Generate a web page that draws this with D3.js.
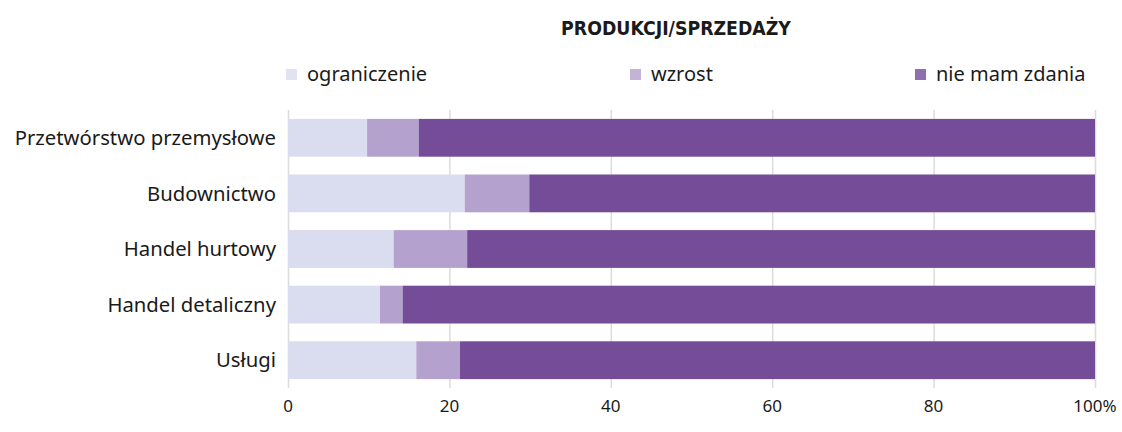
<!DOCTYPE html>
<html>
<head>
<meta charset="utf-8">
<script src="https://cdn.jsdelivr.net/npm/d3@7"></script>
<style>
  body { margin: 0; background: #fff; }
  svg text { font-family: "Noto Sans", "Open Sans", sans-serif; fill: #1a1a1a; }
  .title { font-family: "Liberation Sans Narrow", "DejaVu Sans Condensed", sans-serif; font-weight: bold; }
  .grid line { stroke: #dcdcdc; stroke-width: 1.5; }
</style>
</head>
<body>
<svg id="chart" width="1122" height="432"></svg>
<script>
/* =======================
   DATA
======================= */
const categories = ["Przetwórstwo przemysłowe", "Budownictwo", "Handel hurtowy", "Handel detaliczny", "Usługi"];
const seriesNames = ["ograniczenie", "wzrost", "nie mam zdania"];
const ograniczenie = [9.8, 21.9, 13.1, 11.4, 15.9];
const wzrost = [6.4, 8.0, 9.1, 2.8, 5.4];
const nieMamZdania = [83.8, 70.1, 77.8, 85.8, 78.7];
const xTicks = [0, 20, 40, 60, 80, 100];
const colors = ["#dadcf0", "#b4a1cd", "#744c97"];

/* =======================
   CHART
======================= */
const svg = d3.select("#chart");

const x = d3.scaleLinear().domain([0, 100]).range([288, 1095]);
const y = d3.scaleBand().domain(categories).range([110, 388]).paddingInner(0.32).paddingOuter(0.16);

// Title
svg.append("text")
    .attr("class", "title")
    .attr("x", 676).attr("y", 35)
    .attr("text-anchor", "middle")
    .style("font-size", "19.3px")
    .text("PRODUKCJI/SPRZEDAŻY");

// Legend
const legendX = [286, 630, 915];
seriesNames.forEach((name, i) => {
    svg.append("rect")
        .attr("x", legendX[i]).attr("y", 69)
        .attr("width", 11).attr("height", 11)
        .attr("fill", colors[i])
        .attr("opacity", 0.8);
    svg.append("text")
        .attr("x", legendX[i] + 21).attr("y", 81)
        .style("font-size", "20px")
        .text(name);
});

// Grid
svg.append("g")
    .attr("class", "grid")
    .attr("transform", "translate(0,388)")
    .call(d3.axisBottom(x).tickValues(xTicks).tickSize(-278).tickFormat(""))
    .call(g => g.select(".domain").remove());

// Stacked bars
const rows = categories.map((c, i) => ({ cat: c, ograniczenie: ograniczenie[i], wzrost: wzrost[i], nie: nieMamZdania[i] }));
const stack = d3.stack().keys(["ograniczenie", "wzrost", "nie"]);
const layers = stack(rows);

svg.append("g").selectAll("g")
    .data(layers)
    .join("g")
    .attr("fill", (d, i) => colors[i])
    .selectAll("rect")
    .data(d => d)
    .join("rect")
    .attr("x", d => x(d[0]))
    .attr("y", d => y(d.data.cat))
    .attr("width", d => x(Math.min(100, d[1])) - x(d[0]))
    .attr("height", y.bandwidth());

// Category labels
svg.append("g").selectAll("text")
    .data(categories)
    .join("text")
    .attr("x", 276)
    .attr("y", d => y(d) + y.bandwidth() / 2)
    .attr("dy", "0.35em")
    .attr("text-anchor", "end")
    .style("font-size", "20.3px")
    .text(d => d);

// X axis labels
svg.append("g").selectAll("text")
    .data(xTicks)
    .join("text")
    .attr("x", d => x(d))
    .attr("y", 412)
    .attr("text-anchor", "middle")
    .style("font-size", "17px")
    .text(d => d === 100 ? "100%" : d);
</script>
</body>
</html>
